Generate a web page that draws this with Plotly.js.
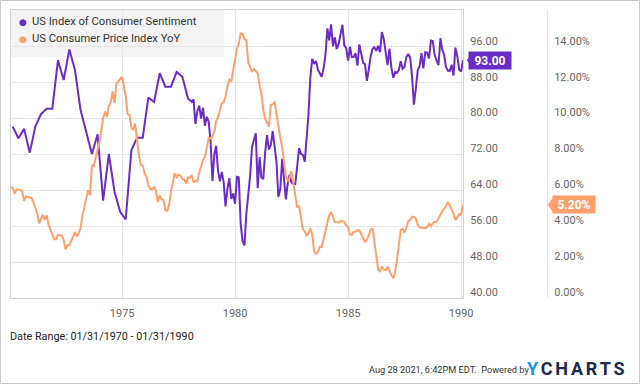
<!DOCTYPE html>
<html>
<head>
<meta charset="utf-8">
<script src="https://cdn.plot.ly/plotly-3.0.1.min.js"></script>
<style>
html,body{margin:0;padding:0;background:#fff;}
#chart{width:640px;height:384px;}
</style>
</head>
<body>
<div id="chart"></div>
<script>
// ---- Data ----
// US Index of Consumer Sentiment: quarterly readings (Feb, May, Aug, Nov) 1970-1977
var sentQuarterYears = [1970, 1971, 1972, 1973, 1974, 1975, 1976, 1977];
var sentQuarterMonths = [2, 5, 8, 11];
var sentQuarterVals = [
  78.2, 75.6, 77.7, 72.4,
  78.2, 81.0, 82.2, 82.2,
  93.0, 88.6, 95.4, 90.8,
  81.9, 77.1, 72.1, 76.5,
  61.7, 72.1, 63.7, 59.2,
  57.5, 73.0, 75.7, 75.7,
  84.7, 83.7, 90.1, 87.1,
  87.1, 90.4, 89.3, 84.5
];
// Monthly readings Jan 1978 - Jan 1990
var sentMonthlyStart = [1978, 1];
var sentMonthlyVals = [
  83.7, 84.3, 78.8, 81.6, 82.9, 80.0, 82.4, 78.4, 80.4, 79.3, 75.0, 66.1,
  72.1, 73.9, 68.4, 66.0, 68.1, 65.8, 60.4, 64.5, 66.7, 62.1, 63.3, 61.0,
  67.0, 66.9, 56.5, 52.7, 51.7, 58.7, 62.3, 67.3, 73.7, 75.0, 76.7, 64.5,
  71.4, 66.9, 66.5, 72.4, 76.3, 73.1, 74.1, 77.2, 73.1, 70.3, 62.5, 64.3,
  71.0, 66.5, 62.0, 65.5, 67.5, 65.7, 65.4, 65.4, 69.3, 73.4, 72.1, 71.9,
  70.4, 74.6, 80.8, 89.1, 93.3, 92.2, 92.8, 90.9, 89.9, 89.3, 91.1, 94.2,
  100.1, 97.4, 101.0, 96.1, 98.1, 95.5, 96.6, 99.1, 100.9, 96.3, 95.7, 92.9,
  96.0, 93.7, 93.7, 94.6, 91.8, 96.5, 94.0, 92.4, 92.1, 88.4, 90.9, 93.9,
  95.6, 95.9, 95.1, 96.2, 94.8, 99.3, 97.7, 94.9, 91.9, 95.6, 91.4, 89.1,
  90.4, 90.2, 90.8, 92.8, 91.1, 91.5, 93.7, 94.4, 93.6, 89.3, 83.1, 86.8,
  90.8, 91.6, 94.6, 91.2, 94.8, 94.7, 93.4, 97.4, 97.3, 94.1, 93.0, 91.9,
  97.9, 95.4, 94.3, 91.5, 90.7, 90.6, 92.0, 89.6, 95.8, 93.9, 90.9, 90.5,
  93.0
];
// US Consumer Price Index YoY (%), monthly Jan 1970 - Jan 1990
var cpiStart = [1970, 1];
var cpiVals = [
  6.18, 6.15, 5.82, 6.06, 6.04, 6.01, 5.98, 5.41, 5.66, 5.63, 5.60, 5.57,
  5.29, 5.00, 4.71, 4.16, 4.40, 4.64, 4.36, 4.62, 4.08, 3.81, 3.54, 3.27,
  3.27, 3.51, 3.50, 3.49, 3.23, 2.71, 2.95, 2.94, 3.19, 3.42, 3.67, 3.41,
  3.65, 3.87, 4.59, 5.06, 5.53, 6.00, 5.73, 7.38, 7.36, 7.80, 8.25, 8.71,
  9.39, 10.02, 10.39, 10.09, 10.71, 10.86, 11.51, 10.86, 11.95, 12.06, 12.20, 12.34,
  11.80, 11.23, 10.25, 10.21, 9.47, 9.39, 9.72, 8.60, 7.91, 7.44, 7.38, 6.94,
  6.72, 6.29, 6.07, 6.05, 6.20, 5.97, 5.35, 5.71, 5.49, 5.46, 4.88, 4.86,
  5.22, 5.91, 6.44, 6.95, 6.73, 6.87, 6.83, 6.62, 6.60, 6.39, 6.72, 6.70,
  6.84, 6.43, 6.55, 6.50, 6.97, 7.41, 7.70, 7.86, 8.31, 8.93, 8.89, 9.02,
  9.28, 9.86, 10.09, 10.49, 10.85, 10.89, 11.26, 11.82, 12.18, 12.07, 12.61, 13.29,
  13.91, 14.18, 14.76, 14.73, 14.41, 14.38, 13.13, 12.87, 12.60, 12.77, 12.65, 12.52,
  11.83, 11.41, 10.49, 10.00, 9.78, 9.55, 10.76, 10.80, 10.95, 10.14, 9.59, 8.92,
  8.39, 7.62, 6.79, 6.51, 6.68, 7.06, 6.44, 5.85, 5.04, 5.14, 4.59, 3.83,
  3.71, 3.49, 3.60, 3.90, 3.55, 2.58, 2.46, 2.56, 2.86, 2.85, 3.27, 3.79,
  4.19, 4.60, 4.80, 4.56, 4.23, 4.22, 4.20, 4.29, 4.27, 4.26, 4.05, 3.95,
  3.53, 3.52, 3.70, 3.69, 3.77, 3.76, 3.55, 3.35, 3.14, 3.23, 3.51, 3.80,
  3.89, 3.11, 2.26, 1.59, 1.49, 1.77, 1.58, 1.57, 1.75, 1.47, 1.28, 1.10,
  1.46, 2.10, 3.03, 3.78, 3.86, 3.65, 3.93, 4.28, 4.36, 4.53, 4.53, 4.43,
  4.05, 3.94, 3.93, 3.90, 3.89, 3.96, 4.13, 4.02, 4.17, 4.25, 4.25, 4.42,
  4.67, 4.83, 4.98, 5.11, 5.36, 5.17, 4.98, 4.71, 4.34, 4.48, 4.66, 4.65,
  5.20
];
var seriesNames = ['US Index of Consumer Sentiment', 'US Consumer Price Index YoY'];
var xTickYears = ['1975', '1980', '1985', '1990'];
var sentTicks = [40, 48, 56, 64, 72, 80, 88, 96];
var cpiTicks = [0, 2, 4, 6, 8, 10, 12, 14];
var dateRangeText = 'Date Range: 01/31/1970 - 01/31/1990';
var footerText = 'Aug 28 2021, 6:42PM EDT.  Powered by';

// ---- Helpers ----
function monthEnd(y, m) {
  var d = new Date(Date.UTC(y, m, 0));
  var mm = String(d.getUTCMonth() + 1).padStart(2, '0');
  var dd = String(d.getUTCDate()).padStart(2, '0');
  return d.getUTCFullYear() + '-' + mm + '-' + dd;
}
function monthlyDates(start, n) {
  var out = [];
  for (var i = 0; i < n; i++) {
    var t = start[0] * 12 + (start[1] - 1) + i;
    out.push(monthEnd(Math.floor(t / 12), (t % 12) + 1));
  }
  return out;
}
var sentDates = [];
sentQuarterYears.forEach(function (y) {
  sentQuarterMonths.forEach(function (m) { sentDates.push(monthEnd(y, m)); });
});
sentDates = sentDates.concat(monthlyDates(sentMonthlyStart, sentMonthlyVals.length));
var sentVals = sentQuarterVals.concat(sentMonthlyVals);
var cpiDates = monthlyDates(cpiStart, cpiVals.length);

var PURPLE = '#6a2cc6';
var ORANGE = '#ffa06c';
var FONT = 'Roboto, sans-serif';

// pixel -> paper helpers (plot area: x 11..635, y 10..298)
var L = 11, R = 5, T = 10, B = 86, W = 640, H = 384;
var PW = W - L - R, PH = H - T - B;
function px(x) { return (x - L) / PW; }
function py(y) { return (H - B - y) / PH; }

var traces = [
  {type: 'scatter', mode: 'lines', name: seriesNames[1], x: cpiDates, y: cpiVals, yaxis: 'y2',
   line: {color: ORANGE, width: 2}, hoverinfo: 'skip'},
  {type: 'scatter', mode: 'lines', name: seriesNames[0], x: sentDates, y: sentVals, yaxis: 'y',
   line: {color: PURPLE, width: 2}, hoverinfo: 'skip'}
];

var tickFont = {family: FONT, size: 11, color: '#666'};
var lastSent = sentVals[sentVals.length - 1];
var lastCpi = cpiVals[cpiVals.length - 1];

var layout = {
  width: W, height: H,
  margin: {l: L, r: R, t: T, b: B, pad: 0},
  paper_bgcolor: '#fff', plot_bgcolor: '#fff',
  showlegend: false,
  font: {family: FONT},
  xaxis: {
    type: 'date', domain: [0, px(463)], range: ['1970-01-31', '1990-01-31'],
    tickvals: xTickYears.map(function (y) { return y + '-01-01'; }), ticktext: xTickYears,
    showgrid: true, gridcolor: '#e6e6e6', gridwidth: 1,
    showline: true, linecolor: '#d4d4d4', linewidth: 1, mirror: true,
    ticks: 'outside', ticklen: 5, tickcolor: 'rgba(0,0,0,0)',
    tickfont: tickFont, zeroline: false, fixedrange: true
  },
  yaxis: {
    range: [40, 104.2], tickvals: sentTicks, ticktext: sentTicks.map(function (v) { return v.toFixed(2); }),
    side: 'right', anchor: 'x',
    showgrid: true, gridcolor: '#e6e6e6', gridwidth: 1,
    showline: true, linecolor: '#d4d4d4', linewidth: 1, mirror: true,
    ticks: 'outside', ticklen: 4, tickcolor: 'rgba(0,0,0,0)', ticklabelshift: -6,
    tickfont: tickFont, zeroline: false, fixedrange: true
  },
  yaxis2: {
    range: [0, 16.05], tickvals: cpiTicks, ticktext: cpiTicks.map(function (v) { return v.toFixed(2) + '%'; }),
    overlaying: 'y', side: 'right', anchor: 'free', position: px(547),
    showgrid: false, showline: true, linecolor: '#e6e6e6', linewidth: 1,
    ticks: 'outside', ticklen: 4, tickcolor: 'rgba(0,0,0,0)', ticklabelshift: -6,
    tickfont: tickFont, zeroline: false, fixedrange: true
  },
  shapes: [
    // legend background
    {type: 'rect', xref: 'paper', yref: 'paper', x0: 0, x1: px(224), y0: py(57), y1: 1,
     fillcolor: '#f3f3f3', line: {width: 0}, layer: 'below'},
    // end-value pointers
    {type: 'path', xref: 'paper', yref: 'y', xsizemode: 'pixel', ysizemode: 'pixel',
     xanchor: px(466.7), yanchor: lastSent, path: 'M0,0L7,8.3L7,-8.3Z', fillcolor: PURPLE, line: {width: 0}},
    {type: 'path', xref: 'paper', yref: 'y2', xsizemode: 'pixel', ysizemode: 'pixel',
     xanchor: px(547.7), yanchor: lastCpi, path: 'M0,0L6,8.3L6,-8.3Z', fillcolor: ORANGE, line: {width: 0}},
    // outer frame
    {type: 'rect', xref: 'paper', yref: 'paper', x0: px(0.5), x1: px(639.5), y0: py(383.5), y1: py(0.5),
     line: {color: '#cccccc', width: 1}, fillcolor: 'rgba(0,0,0,0)'}
  ],
  annotations: [
    // legend
    {xref: 'paper', yref: 'paper', x: px(23), y: py(22), text: '●', showarrow: false,
     font: {family: 'DejaVu Sans', size: 9, color: PURPLE}, xanchor: 'center', yanchor: 'middle'},
    {xref: 'paper', yref: 'paper', x: px(30), y: py(22), text: seriesNames[0], showarrow: false,
     font: {family: FONT, size: 11.2, color: '#333'}, xanchor: 'left', yanchor: 'middle'},
    {xref: 'paper', yref: 'paper', x: px(23), y: py(39), text: '●', showarrow: false,
     font: {family: 'DejaVu Sans', size: 9, color: ORANGE}, xanchor: 'center', yanchor: 'middle'},
    {xref: 'paper', yref: 'paper', x: px(30), y: py(39), text: seriesNames[1], showarrow: false,
     font: {family: FONT, size: 11.2, color: '#333'}, xanchor: 'left', yanchor: 'middle'},
    // end-value labels
    {xref: 'paper', yref: 'y', x: px(468.5), y: lastSent, text: '<b>' + lastSent.toFixed(2) + '</b>',
     showarrow: false, xanchor: 'left', yanchor: 'middle', bgcolor: PURPLE, borderpad: 1,
     width: 40, height: 15, align: 'center', font: {family: FONT, size: 12, color: '#fff'}},
    {xref: 'paper', yref: 'y2', x: px(552), y: lastCpi, text: '<b>' + lastCpi.toFixed(2) + '%</b>',
     showarrow: false, xanchor: 'left', yanchor: 'middle', bgcolor: ORANGE, borderpad: 1,
     width: 40, height: 15, align: 'center', font: {family: FONT, size: 12, color: '#fff'}},
    // footer texts
    {xref: 'paper', yref: 'paper', x: px(8), y: py(336), text: dateRangeText, showarrow: false,
     xanchor: 'left', yanchor: 'middle', font: {family: FONT, size: 10.8, color: '#222'}},
    {xref: 'paper', yref: 'paper', x: px(531), y: py(369), text: footerText, showarrow: false,
     xanchor: 'right', yanchor: 'middle', font: {family: FONT, size: 9.2, color: '#333'}},
    {xref: 'paper', yref: 'paper', x: px(629), y: py(368), text: '<span style="letter-spacing:2.8px">YCHARTS</span>'.replace('Y', '<span style="color:#1e90f0">Y</span>'),
     showarrow: false, xanchor: 'right', yanchor: 'middle',
     font: {family: FONT, size: 18, color: '#1b2a4e', weight: 'bold'}}
  ]
};

Plotly.newPlot('chart', traces, layout, {displayModeBar: false, staticPlot: true});
</script>
</body>
</html>
